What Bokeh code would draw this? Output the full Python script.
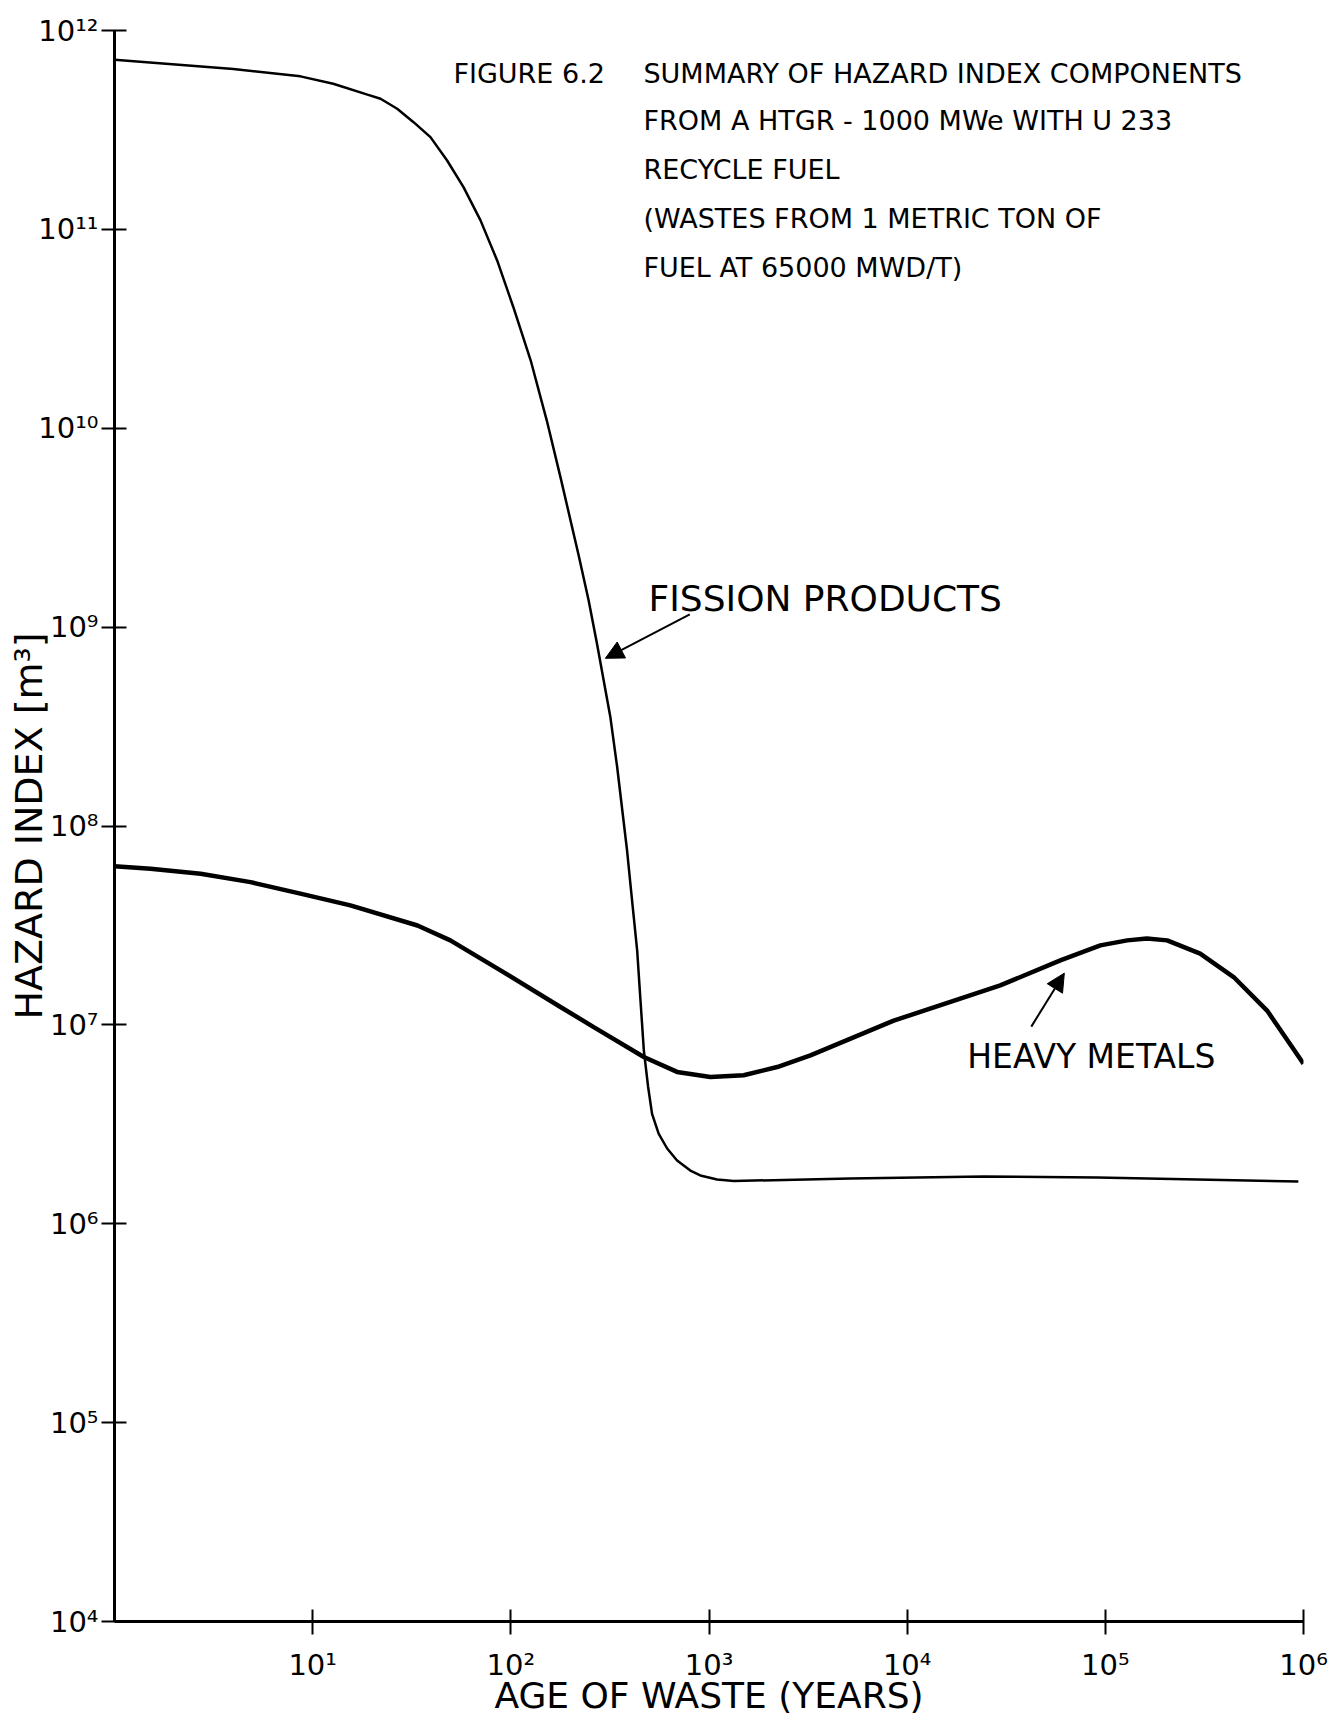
from bokeh.plotting import figure
from bokeh.models import FixedTicker, CustomJSTickFormatter, Label, Arrow, NormalHead
from bokeh.embed import file_html
from bokeh.resources import INLINE

# ---- data ----
years_fp = [1.0, 3.98, 8.67, 12.7, 18.9, 22.0, 26.7, 32.3, 39.3, 47.7, 57.7,
            70.3, 85.3, 103, 126, 152, 178, 220, 247, 272, 318, 344, 386, 409,
            434, 451, 469, 493, 516, 557, 615, 690, 805, 904, 1099, 1333, 5160,
            24300, 91200, 942000]
hazard_fp = [7.13e11, 6.41e11, 5.88e11, 5.40e11, 4.76e11, 4.54e11, 4.04e11,
             3.46e11, 2.91e11, 2.22e11, 1.63e11, 1.11e11, 6.98e10, 4.06e10,
             2.19e10, 1.09e10, 5.68e9, 2.29e9, 1.36e9, 8.28e8, 3.52e8, 1.98e8,
             7.53e7, 4.23e7, 2.37e7, 1.33e7, 7.45e6, 4.87e6, 3.57e6, 2.84e6,
             2.39e6, 2.08e6, 1.85e6, 1.75e6, 1.67e6, 1.64e6, 1.69e6, 1.73e6,
             1.71e6, 1.63e6]

years_hm = [1.0, 1.52, 2.72, 4.86, 8.67, 15.5, 33.8, 49.5, 88.7, 178, 262, 469,
            690, 1016, 1496, 2208, 3251, 8551, 29500, 59300, 94400, 129000,
            162000, 205000, 301000, 444000, 655000, 1000000]
hazard_hm = [6.27e7, 6.10e7, 5.75e7, 5.22e7, 4.57e7, 3.99e7, 3.16e7, 2.66e7,
             1.88e7, 1.23e7, 9.75e6, 6.89e6, 5.80e6, 5.47e6, 5.58e6, 6.14e6,
             7.03e6, 1.05e7, 1.58e7, 2.11e7, 2.51e7, 2.66e7, 2.72e7, 2.66e7,
             2.28e7, 1.74e7, 1.18e7, 6.38e6]

x_ticks = [1e1, 1e2, 1e3, 1e4, 1e5, 1e6]
y_ticks = [1e4, 1e5, 1e6, 1e7, 1e8, 1e9, 1e10, 1e11, 1e12]

title_prefix = "FIGURE 6.2"
title_lines = ["SUMMARY OF HAZARD INDEX COMPONENTS",
               "FROM A HTGR - 1000 MWe WITH U 233",
               "RECYCLE FUEL",
               "(WASTES FROM 1 METRIC TON OF",
               "FUEL AT 65000 MWD/T)"]
title_x = [51.3, 467]
title_y = [6.09e11, 3.53e11, 2.00e11, 1.135e11, 6.43e10]

fp_label = "FISSION PRODUCTS"
fp_label_pos = (495, 1.40e9)
fp_arrow = (800, 1.16e9, 300, 6.97e8)   # x_start, y_start, x_end, y_end

hm_label = "HEAVY METALS"
hm_label_pos = (20100, 6.94e6)
hm_arrow = (42300, 9.8e6, 62100, 1.82e7)

FONT = "DejaVu Sans"

p = figure(width=1330, height=1720, x_axis_type="log", y_axis_type="log",
           x_range=(1, 1e6), y_range=(1e4, 1e12),
           output_backend="svg", toolbar_location=None,
           min_border_left=114, min_border_right=27,
           min_border_top=30, min_border_bottom=99,
           background_fill_color="white", border_fill_color="white")
p.outline_line_color = None
p.grid.visible = False

fmt = CustomJSTickFormatter(code="""
const sup = {"0":"\u2070","1":"\u00b9","2":"\u00b2","3":"\u00b3","4":"\u2074",
             "5":"\u2075","6":"\u2076","7":"\u2077","8":"\u2078","9":"\u2079"};
const e = Math.round(Math.log10(tick));
return "10" + String(e).split("").map(c => sup[c]).join("");
""")

p.xaxis.ticker = FixedTicker(ticks=x_ticks, minor_ticks=[])
p.yaxis.ticker = FixedTicker(ticks=y_ticks, minor_ticks=[])
for ax in (p.xaxis[0], p.yaxis[0]):
    ax.formatter = fmt
    ax.axis_line_width = 3
    ax.axis_line_color = "black"
    ax.major_tick_line_width = 2
    ax.major_tick_line_color = "black"
    ax.major_tick_in = 12
    ax.major_tick_out = 13
    ax.minor_tick_line_color = None
    ax.major_label_text_font = FONT
    ax.major_label_text_color = "black"
    ax.axis_label_text_font = FONT
    ax.axis_label_text_font_style = "normal"
    ax.axis_label_text_color = "black"

p.xaxis.major_label_text_font_size = "29px"
p.yaxis.major_label_text_font_size = "29px"
p.xaxis.major_label_standoff = 13
p.yaxis.major_label_standoff = 3
p.xaxis.axis_label = "AGE OF WASTE (YEARS)"
p.xaxis.axis_label_text_font_size = "36px"
p.xaxis.axis_label_standoff = -10
p.yaxis.axis_label = "HAZARD INDEX [m\u00b3]"
p.yaxis.axis_label_text_font_size = "38px"
p.yaxis.axis_label_standoff = -16

p.line(years_fp, hazard_fp, line_color="black", line_width=2.5)
p.line(years_hm, hazard_hm, line_color="black", line_width=4.5)

p.add_layout(Label(x=title_x[0], y=title_y[0], text=title_prefix, text_font=FONT,
                   text_font_size="27px", text_color="black",
                   text_baseline="alphabetic"))
for txt, yy in zip(title_lines, title_y):
    p.add_layout(Label(x=title_x[1], y=yy, text=txt, text_font=FONT,
                       text_font_size="27px", text_color="black",
                       text_baseline="alphabetic"))

p.add_layout(Label(x=fp_label_pos[0], y=fp_label_pos[1], text=fp_label,
                   text_font=FONT, text_font_size="36px", text_color="black",
                   text_baseline="alphabetic"))
p.add_layout(Label(x=hm_label_pos[0], y=hm_label_pos[1], text=hm_label,
                   text_font=FONT, text_font_size="33px", text_color="black",
                   text_baseline="alphabetic"))

for a in (fp_arrow, hm_arrow):
    p.add_layout(Arrow(end=NormalHead(size=18, fill_color="black",
                                      line_color="black", line_width=1),
                       x_start=a[0], y_start=a[1], x_end=a[2], y_end=a[3],
                       line_width=2, line_color="black"))

open("out.html", "w", encoding="utf-8").write(file_html(p, INLINE))
